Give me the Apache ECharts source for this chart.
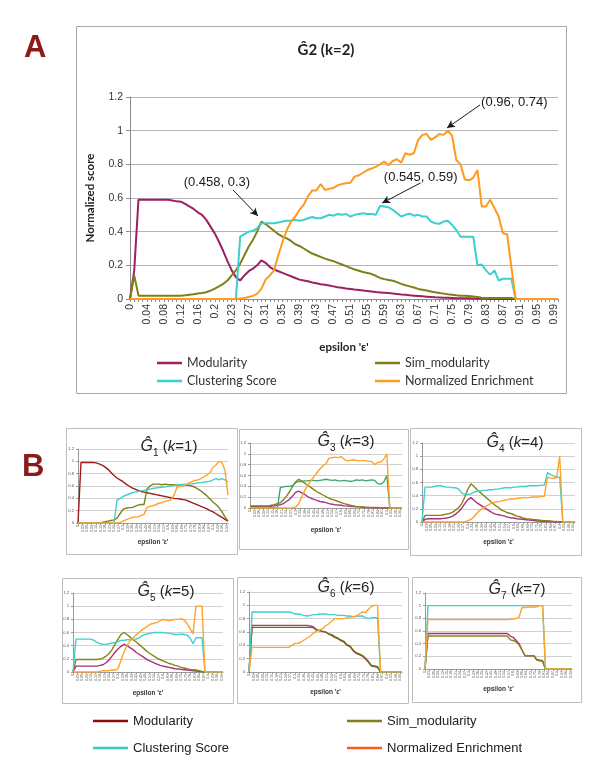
<!DOCTYPE html>
<html><head><meta charset="utf-8">
<script src="https://cdn.jsdelivr.net/npm/echarts@6/dist/echarts.min.js"></script>
<style>html,body{margin:0;padding:0;background:#fff}#c{width:600px;height:769px}</style>
</head><body><div id="c"></div>
<script>
// ---------- Panel A data ----------
const catsA = ["0","0.01","0.02","0.03","0.04","0.05","0.06","0.07","0.08","0.09","0.1","0.11","0.12","0.13","0.14","0.15","0.16","0.17","0.18","0.19","0.2","0.2","0.21","0.22","0.23","0.24","0.25","0.26","0.27","0.28","0.29","0.3","0.31","0.32","0.33","0.34","0.35","0.36","0.37","0.38","0.39","0.4","0.41","0.42","0.43","0.44","0.45","0.46","0.47","0.48","0.49","0.5","0.51","0.52","0.53","0.54","0.55","0.56","0.57","0.58","0.59","0.6","0.61","0.62","0.63","0.64","0.65","0.66","0.67","0.68","0.69","0.7","0.71","0.72","0.73","0.74","0.75","0.76","0.77","0.78","0.79","0.8","0.81","0.82","0.83","0.84","0.85","0.86","0.87","0.88","0.89","0.9","0.91","0.92","0.93","0.94","0.95","0.96","0.97","0.98","0.99","1"];
const modA = [0,0.17,0.59,0.59,0.59,0.59,0.59,0.59,0.59,0.59,
0.585,0.58,0.578,0.565,0.55,0.535,0.515,0.5,0.47,0.43,
0.39,0.34,0.285,0.225,0.17,0.13,0.11,0.14,0.165,0.18,
0.2,0.23,0.215,0.19,0.175,0.165,0.155,0.145,0.135,0.125,
0.115,0.11,0.105,0.098,0.093,0.088,0.085,0.08,0.075,0.07,
0.067,0.063,0.06,0.056,0.053,0.05,0.047,0.044,0.041,0.039,
0.037,0.035,0.033,0.03,0.027,0.025,0.022,0.02,0.018,0.016,
0.014,0.012,0.01,0.009,0.008,0.007,0.006,0.005,0.005,0.004,
0.004,0.003,0.003,0.002,0.002,0,0,0,0,0,
0,0,0,0,0,0,0,0,0,0,0,0];
const simA = [0,0.14,0.02,0.02,0.02,0.02,0.02,0.02,0.02,0.02,
0.02,0.02,0.02,0.022,0.025,0.028,0.033,0.036,0.04,0.05,
0.062,0.075,0.09,0.11,0.14,0.17,0.21,0.26,0.31,0.35,
0.4,0.46,0.445,0.425,0.405,0.385,0.37,0.36,0.345,0.325,
0.315,0.3,0.285,0.27,0.26,0.25,0.24,0.232,0.225,0.215,
0.205,0.195,0.185,0.175,0.168,0.16,0.155,0.148,0.138,0.125,
0.118,0.113,0.108,0.1,0.09,0.082,0.075,0.068,0.06,0.055,
0.05,0.045,0.04,0.036,0.032,0.028,0.025,0.022,0.02,0.02,
0.018,0.015,0.012,0.008,0.006,0.006,0.006,0.006,0.006,0.006,
0.006,0,0,0,0,0,0,0,0,0,0,0];
const cluA = [0,0,0,0,0,0,0,0,0,0,
0,0,0,0,0,0,0,0,0,0,
0,0,0,0,0,0,0.37,0.385,0.4,0.405,
0.42,0.45,0.45,0.45,0.45,0.455,0.46,0.465,0.465,0.47,
0.465,0.47,0.48,0.487,0.48,0.48,0.49,0.5,0.495,0.505,
0.5,0.505,0.49,0.5,0.505,0.51,0.505,0.505,0.5,0.553,
0.55,0.545,0.53,0.51,0.49,0.5,0.507,0.495,0.5,0.49,
0.49,0.46,0.45,0.447,0.46,0.465,0.44,0.41,0.37,0.37,
0.37,0.37,0.2,0.205,0.17,0.145,0.17,0.11,0.12,0.12,
0.12,0,0,0,0,0,0,0,0,0,0,0];
const enrA = [0,0,0,0,0,0,0,0,0,0,
0,0,0,0,0,0,0,0,0,0,
0,0,0,0,0,0,0.003,0.006,0.012,0.018,
0.03,0.06,0.115,0.14,0.17,0.26,0.34,0.41,0.46,0.49,
0.53,0.56,0.61,0.645,0.645,0.683,0.648,0.655,0.66,0.675,
0.683,0.688,0.69,0.727,0.735,0.75,0.766,0.775,0.785,0.8,
0.816,0.795,0.82,0.83,0.81,0.866,0.857,0.866,0.945,0.975,
0.98,0.945,0.96,0.98,0.975,1.0,0.97,0.826,0.8,0.71,
0.705,0.72,0.766,0.55,0.55,0.59,0.54,0.49,0.39,0.385,
0.19,0,0,0,0,0,0,0,0,0,0,0];
const yTicksA = [0,0.2,0.4,0.6,0.8,1,1.2];
// annotations: [label, textPos, arrowStart, arrowEnd] in (category index, value)
const notesA = [
  ["(0.458, 0.3)", [20.5,0.69], [24.3,0.648], [30.2,0.493]],
  ["(0.545, 0.59)", [68.6,0.725], [68.6,0.69], [59.5,0.57]],
  ["(0.96, 0.74)", [90.7,1.17], [82.6,1.153], [74.8,1.016]]
];

// ---------- Panel B data (epsilon step 0.02) ----------
const EPS = [0,0.02,0.04,0.06,0.08,0.1,0.12,0.14,0.16,0.18,0.2,0.22,0.24,0.26,0.28,0.3,0.32,0.34,0.36,0.38,0.4,0.42,0.44,0.46,0.48,0.5,0.52,0.54,0.56,0.58,0.6,0.62,0.64,0.66,0.68,0.7,0.72,0.74,0.76,0.78,0.8,0.82,0.84,0.86,0.88,0.9,0.92,0.94,0.96,0.98,1];
const mod1 = [0,0.98,0.98,0.98,0.98,0.98,0.975,0.96,0.94,0.91,0.87,0.82,0.77,0.73,0.70,0.67,0.63,0.60,0.57,0.55,0.53,0.51,0.50,0.49,0.48,0.47,0.46,0.45,0.44,0.43,0.42,0.41,0.40,0.395,0.39,0.38,0.37,0.35,0.33,0.31,0.29,0.27,0.25,0.23,0.20,0.18,0.15,0.12,0.09,0.06,0.03];
const clu1 = [0,0,0,0,0,0,0,0,0,0,0,0,0,0.37,0.40,0.43,0.45,0.47,0.49,0.50,0.51,0.52,0.53,0.54,0.55,0.56,0.57,0.575,0.58,0.585,0.59,0.60,0.61,0.615,0.62,0.625,0.63,0.63,0.635,0.64,0.65,0.655,0.66,0.67,0.68,0.70,0.72,0.70,0.72,0.70,0.66];
const sim1 = [0,0,0,0,0,0,0,0,0.01,0.02,0.03,0.04,0.05,0.08,0.15,0.22,0.24,0.25,0.25,0.27,0.29,0.30,0.30,0.55,0.60,0.63,0.63,0.63,0.62,0.63,0.62,0.62,0.62,0.61,0.62,0.62,0.61,0.61,0.60,0.58,0.55,0.52,0.48,0.44,0.39,0.34,0.30,0.25,0.18,0.10,0.03];
const enr1 = [0,0,0,0,0,0,0,0,0,0,0,0,0,0,0.01,0.03,0.05,0.07,0.09,0.10,0.10,0.12,0.14,0.25,0.27,0.28,0.30,0.32,0.33,0.35,0.36,0.38,0.45,0.58,0.60,0.60,0.62,0.65,0.67,0.69,0.70,0.72,0.75,0.78,0.82,0.90,0.94,1.0,0.98,0.85,0.45];
const mod3 = [0.03,0.03,0.03,0.03,0.03,0.03,0.03,0.03,0.04,0.05,0.06,0.08,0.12,0.16,0.22,0.29,0.31,0.28,0.25,0.21,0.18,0.16,0.14,0.12,0.11,0.10,0.08,0.07,0.06,0.055,0.05,0.04,0.035,0.03,0.025,0.02,0.02,0.015,0.01,0.01,0,0,0,0,0,0,0,0,0,0,0];
const sim3 = [0.03,0.04,0.04,0.04,0.04,0.04,0.04,0.05,0.06,0.08,0.10,0.15,0.22,0.30,0.40,0.48,0.53,0.50,0.46,0.42,0.38,0.34,0.30,0.27,0.24,0.21,0.18,0.16,0.14,0.12,0.10,0.08,0.065,0.05,0.04,0.03,0.025,0.02,0.015,0.012,0.01,0.01,0.008,0.005,0.005,0.005,0,0,0,0,0];
const clu3 = [0,0,0,0,0,0,0,0,0,0,0.38,0.39,0.40,0.40,0.41,0.47,0.49,0.49,0.50,0.50,0.51,0.51,0.50,0.51,0.52,0.53,0.52,0.51,0.52,0.50,0.50,0.51,0.50,0.49,0.50,0.52,0.51,0.52,0.50,0.51,0.52,0.51,0.45,0.44,0.48,0.60,0,0,0,0,0];
const enr3 = [0,0,0,0,0,0,0,0,0,0,0,0,0,0,0,0.02,0.08,0.20,0.32,0.42,0.50,0.58,0.65,0.72,0.78,0.82,0.92,0.93,0.94,0.93,0.95,0.90,0.87,0.88,0.89,0.88,0.87,0.88,0.87,0.86,0.86,0.80,0.84,0.85,0.90,1.0,0,0,0,0,0];
const clu4 = [0,0.53,0.53,0.53,0.54,0.55,0.55,0.54,0.53,0.53,0.52,0.52,0.50,0.44,0.42,0.42,0.43,0.45,0.47,0.47,0.48,0.48,0.49,0.49,0.50,0.50,0.51,0.52,0.52,0.52,0.53,0.53,0.54,0.54,0.54,0.55,0.55,0.55,0.55,0.56,0.56,0.75,0.72,0.70,0.68,0.68,0,0,0,0,0];
const enr4 = [0,0,0,0,0,0,0,0,0,0,0,0,0,0,0,0.02,0.04,0.08,0.14,0.18,0.21,0.24,0.27,0.29,0.30,0.31,0.32,0.33,0.34,0.35,0.35,0.36,0.36,0.37,0.37,0.37,0.38,0.38,0.38,0.39,0.39,0.68,0.67,0.66,0.68,1.0,0,0,0,0,0];
const sim4 = [0,0.10,0.10,0.10,0.10,0.10,0.10,0.11,0.12,0.13,0.15,0.18,0.22,0.28,0.38,0.50,0.58,0.54,0.49,0.45,0.41,0.37,0.33,0.29,0.25,0.22,0.18,0.16,0.14,0.13,0.11,0.09,0.08,0.06,0.05,0.045,0.04,0.035,0.03,0.025,0.02,0.02,0.015,0.01,0.01,0.005,0,0,0,0,0];
const mod4 = [0,0.04,0.05,0.05,0.05,0.05,0.05,0.055,0.06,0.07,0.09,0.12,0.16,0.21,0.28,0.34,0.37,0.33,0.29,0.26,0.23,0.20,0.17,0.14,0.12,0.11,0.10,0.09,0.075,0.065,0.06,0.05,0.045,0.04,0.035,0.03,0.025,0.02,0.015,0.01,0.008,0.005,0,0,0,0,0,0,0,0,0];
const clu5 = [0,0.5,0.5,0.5,0.5,0.5,0.5,0.48,0.45,0.43,0.42,0.42,0.43,0.44,0.45,0.46,0.48,0.48,0.49,0.49,0.50,0.50,0.52,0.55,0.57,0.58,0.59,0.60,0.60,0.60,0.60,0.59,0.59,0.58,0.57,0.57,0.58,0.57,0.56,0.52,0.43,0.52,0.52,0.52,0,0,0,0,0,0,0];
const enr5 = [0,0,0,0,0,0,0,0,0,0.01,0.02,0.02,0.02,0.03,0.03,0.05,0.18,0.30,0.40,0.47,0.52,0.56,0.60,0.64,0.67,0.70,0.73,0.74,0.75,0.78,0.80,0.79,0.78,0.79,0.80,0.80,0.81,0.79,0.74,0.66,0.58,1.0,1.0,1.0,0,0,0,0,0,0,0];
const sim5 = [0,0.19,0.19,0.19,0.19,0.19,0.19,0.19,0.19,0.20,0.21,0.24,0.28,0.34,0.42,0.50,0.57,0.60,0.57,0.53,0.49,0.46,0.42,0.38,0.34,0.30,0.27,0.24,0.21,0.19,0.17,0.15,0.13,0.12,0.10,0.09,0.07,0.06,0.05,0.04,0.035,0.03,0.02,0.01,0,0,0,0,0,0,0];
const mod5 = [0,0.09,0.09,0.09,0.09,0.09,0.09,0.09,0.09,0.10,0.11,0.14,0.18,0.24,0.30,0.35,0.39,0.42,0.40,0.37,0.34,0.30,0.27,0.24,0.21,0.18,0.16,0.14,0.12,0.10,0.09,0.08,0.07,0.06,0.05,0.045,0.04,0.035,0.03,0.025,0.02,0.015,0.01,0.005,0,0,0,0,0,0,0];
const clu6 = [0,0.9,0.9,0.9,0.9,0.9,0.9,0.9,0.9,0.9,0.9,0.9,0.9,0.9,0.89,0.87,0.87,0.86,0.85,0.84,0.85,0.86,0.86,0.87,0.87,0.87,0.86,0.86,0.86,0.85,0.85,0.85,0.84,0.84,0.83,0.83,0.84,0.84,0.82,0.80,0.81,0.82,0.81,0,0,0,0,0,0,0,0];
const mod6 = [0,0.7,0.7,0.7,0.7,0.7,0.7,0.7,0.7,0.7,0.7,0.7,0.7,0.7,0.7,0.7,0.7,0.7,0.7,0.7,0.69,0.68,0.64,0.62,0.61,0.60,0.57,0.55,0.52,0.50,0.47,0.45,0.40,0.38,0.32,0.28,0.26,0.24,0.20,0.15,0.09,0.08,0.07,0,0,0,0,0,0,0,0];
const sim6 = [0,0.67,0.67,0.67,0.67,0.67,0.67,0.67,0.67,0.67,0.67,0.67,0.67,0.67,0.67,0.67,0.67,0.67,0.67,0.67,0.67,0.665,0.63,0.62,0.61,0.60,0.57,0.56,0.53,0.51,0.48,0.46,0.41,0.39,0.33,0.29,0.27,0.25,0.21,0.16,0.10,0.09,0.08,0,0,0,0,0,0,0,0];
const enr6 = [0,0.37,0.37,0.37,0.37,0.37,0.37,0.37,0.37,0.37,0.37,0.37,0.37,0.37,0.40,0.43,0.43,0.45,0.48,0.51,0.54,0.58,0.61,0.63,0.65,0.69,0.72,0.76,0.80,0.80,0.80,0.80,0.81,0.82,0.83,0.84,0.87,0.90,0.89,0.94,0.98,1.0,1.0,0,0,0,0,0,0,0,0];
const clu7 = [0,1,1,1,1,1,1,1,1,1,1,1,1,1,1,1,1,1,1,1,1,1,1,1,1,1,1,1,1,1,1,1,1,1,1,1,1,1,1,1,1,0,0,0,0,0,0,0,0,0,0];
const enr7 = [0,0.78,0.78,0.78,0.78,0.78,0.78,0.78,0.78,0.78,0.78,0.78,0.78,0.78,0.78,0.78,0.78,0.78,0.78,0.78,0.78,0.78,0.78,0.78,0.78,0.78,0.78,0.78,0.78,0.785,0.79,0.80,0.82,0.97,0.97,0.975,0.98,0.98,0.98,1.0,1.0,0,0,0,0,0,0,0,0,0,0];
const mod7 = [0,0.56,0.56,0.56,0.56,0.56,0.56,0.56,0.56,0.56,0.56,0.56,0.56,0.56,0.56,0.56,0.56,0.56,0.56,0.56,0.56,0.56,0.56,0.56,0.56,0.56,0.56,0.56,0.56,0.52,0.50,0.45,0.40,0.30,0.21,0.21,0.21,0.21,0.15,0.14,0.13,0,0,0,0,0,0,0,0,0,0];
const sim7 = [0,0.52,0.52,0.52,0.52,0.52,0.52,0.52,0.52,0.52,0.52,0.52,0.52,0.52,0.52,0.52,0.52,0.52,0.52,0.52,0.52,0.52,0.52,0.52,0.52,0.52,0.52,0.52,0.52,0.46,0.45,0.43,0.38,0.30,0.21,0.21,0.21,0.21,0.14,0.13,0.12,0,0,0,0,0,0,0,0,0,0];

const seriesNames = ["Modularity","Sim_modularity","Clustering Score","Normalized Enrichment"];

// ---------- layout (pixels) ----------
const small = [
  {k:1, grid:{left:78,top:449,width:150,height:74}, frame:[66,428,171,126], title:[164,442], gap:16, data:[mod1,sim1,clu1,enr1], colors:['#9E1B1B','#808018','#3FCFCF','#FFA329']},
  {k:3, grid:{left:250,top:443,width:152,height:65}, frame:[239,429,169,120], title:[341,437], gap:19, data:[mod3,sim3,clu3,enr3], colors:['#B0338A','#848418','#3AA56E','#FFA329']},
  {k:4, grid:{left:422,top:443,width:153,height:79}, frame:[410,428,171,127], title:[510,438], gap:17, data:[mod4,sim4,clu4,enr4], colors:['#A8307A','#848418','#3FCFCF','#FFA329']},
  {k:5, grid:{left:73,top:593,width:150,height:79}, frame:[62,578,171,125], title:[161,587], gap:18, data:[mod5,sim5,clu5,enr5], colors:['#A8307A','#848418','#3FCFCF','#FFA329']},
  {k:6, grid:{left:249,top:592,width:153,height:80}, frame:[237,577,171,126], title:[341,583], gap:17, data:[mod6,sim6,clu6,enr6], colors:['#A8407A','#6E6E14','#3FCFCF','#FFA329']},
  {k:7, grid:{left:425,top:593,width:147,height:76}, frame:[412,577,169,125], title:[512,585], gap:17, data:[mod7,sim7,clu7,enr7], colors:['#A8307A','#848418','#3FCFCF','#FFA329']}
];
const colA = ['#9B2160','#7F7F1A','#3CCFCF','#FF9A1F'];
const colB = ['#8B1010','#7F7F20','#33CCCC','#FF5A1F'];

const grids = [{left:130, top:97, width:428, height:202}];
const xAxes = [
  {type:'category', gridIndex:0, data:catsA, boundaryGap:false,
   axisLine:{lineStyle:{color:'#8C8C8C'}},
   axisTick:{show:true, interval:0, length:3, lineStyle:{color:'#8C8C8C'}},
   axisLabel:{interval:3, rotate:90, fontSize:10.5, color:'#333', margin:5, fontFamily:'Liberation Sans'},
   name:"epsilon 'ε'", nameLocation:'middle', nameGap:42,
   nameTextStyle:{fontFamily:'Lato', fontWeight:'bold', fontSize:11.5, color:'#222'}},
  {type:'value', gridIndex:0, min:0, max:101, show:false}
];
const yAxes = [
  {type:'value', gridIndex:0, min:0, max:1.2, interval:0.2,
   axisLine:{show:true, lineStyle:{color:'#8C8C8C'}},
   axisTick:{show:true, length:4, lineStyle:{color:'#8C8C8C'}},
   splitLine:{lineStyle:{color:'#B4B4B4'}},
   axisLabel:{fontSize:10.5, color:'#333', margin:7, fontFamily:'Liberation Sans'},
   name:'Normalized score', nameLocation:'middle', nameGap:34, nameRotate:90,
   nameTextStyle:{fontFamily:'Lato', fontWeight:'bold', fontSize:11.5, color:'#222'}}
];
const series = [];
[modA, simA, cluA, enrA].forEach((arr, j) => {
  series.push({type:'line', name:seriesNames[j]+'#A', xAxisIndex:0, yAxisIndex:0, data:arr,
    showSymbol:false, symbol:'none', lineStyle:{width:2, color:colA[j]}, itemStyle:{color:colA[j]}, silent:true, z:2+j});
});
series.push({type:'line', name:'notes', xAxisIndex:1, yAxisIndex:0, data:[], silent:true,
  markLine:{silent:true, symbol:['none','arrow'], symbolSize:[6,8], animation:false,
    lineStyle:{color:'#1a1a1a', width:1, type:'solid'}, label:{show:false},
    data: notesA.map(n => [{coord:n[2]},{coord:n[3]}])},
  markPoint:{silent:true, symbol:'rect', symbolSize:1, itemStyle:{color:'rgba(0,0,0,0)'}, animation:false,
    label:{show:true, position:'inside', formatter: p => p.name, fontSize:13, color:'#1a1a1a', fontFamily:'Liberation Sans'},
    data: notesA.map(n => ({name:n[0], coord:n[1]}))}
});

const titles = [{text:'Ĝ2 (k=2)', left:321, top:38, textAlign:'center',
  textStyle:{fontFamily:'Lato', fontWeight:'bold', fontSize:15, color:'#222'}}];

small.forEach((s, g) => {
  grids.push(s.grid);
  const gi = g + 1;
  xAxes.push({type:'value', gridIndex:gi, min:0, max:1, interval:0.03,
    axisLine:{lineStyle:{color:'#999'}}, axisTick:{show:true, length:2, lineStyle:{color:'#999'}},
    splitLine:{show:false},
    axisLabel:{rotate:90, fontSize:3.6, color:'#555', margin:2, showMaxLabel:false, fontFamily:'Liberation Sans'},
    name:"epsilon 'ε'", nameLocation:'middle', nameGap:s.gap,
    nameTextStyle:{fontFamily:'Liberation Sans', fontWeight:'bold', fontSize:6.5, color:'#333'}});
  yAxes.push({type:'value', gridIndex:gi, min:0, max:1.2, interval:0.2,
    axisLine:{show:true, lineStyle:{color:'#999'}}, axisTick:{show:true, length:2, lineStyle:{color:'#999'}},
    splitLine:{lineStyle:{color:'#C4C4C4', width:0.8}},
    axisLabel:{fontSize:4.2, color:'#555', margin:4, fontFamily:'Liberation Sans'}});
  s.data.forEach((arr, j) => {
    series.push({type:'line', name:seriesNames[j]+'#G'+s.k, xAxisIndex:gi+1, yAxisIndex:gi,
      data: EPS.map((x, i) => [x, arr[i]]), showSymbol:false, symbol:'none', silent:true,
      lineStyle:{width:1.4, color:s.colors[j]}, itemStyle:{color:s.colors[j]}, z:2+j});
  });
  titles.push({text:'{g|Ĝ}{s|' + s.k + '}{t| (}{k|k}{t|=' + s.k + ')}', left:s.title[0], top:s.title[1]-11, textAlign:'center',
    textStyle:{fontWeight:'normal', rich:{
      g:{fontFamily:'Liberation Sans', fontWeight:'normal', fontStyle:'italic', fontSize:16, color:'#222', lineHeight:22},
      s:{fontFamily:'Liberation Sans', fontWeight:'normal', fontSize:10, color:'#222', verticalAlign:'bottom', lineHeight:16},
      t:{fontFamily:'Liberation Sans', fontWeight:'normal', fontSize:15, color:'#222', lineHeight:22},
      k:{fontFamily:'Liberation Sans', fontWeight:'normal', fontStyle:'italic', fontSize:15, color:'#222', lineHeight:22}
    }}});
});

// dummy series carrying the colours of the bottom legend
seriesNames.forEach((n, j) => {
  series.push({type:'line', name:n+'#B', xAxisIndex:2, yAxisIndex:1, data:[], silent:true,
    lineStyle:{color:colB[j], width:2.5}, itemStyle:{color:colB[j]}});
});

function leg(name, left, top, w, font, size, color) {
  return {data:[name], left:left, top:top, orient:'horizontal', padding:0, itemGap:0,
    icon:'rect', itemWidth:w, itemHeight:2.5, selectedMode:false,
    formatter: n => n.split('#')[0],
    textStyle:{fontFamily:font, fontSize:size, color:color, lineHeight:16, padding:[0,0,0,0]}};
}
const legends = [
  leg('Modularity#A', 157, 355, 25, 'Lato', 12.5, '#333'),
  leg('Sim_modularity#A', 375, 355, 25, 'Lato', 12.5, '#333'),
  leg('Clustering Score#A', 157, 373, 25, 'Lato', 12.5, '#333'),
  leg('Normalized Enrichment#A', 375, 373, 25, 'Lato', 12.5, '#333'),
  leg('Modularity#B', 93, 713, 35, 'Liberation Sans', 13, '#222'),
  leg('Sim_modularity#B', 347, 713, 35, 'Liberation Sans', 13, '#222'),
  leg('Clustering Score#B', 93, 740, 35, 'Liberation Sans', 13, '#222'),
  leg('Normalized Enrichment#B', 347, 740, 35, 'Liberation Sans', 13, '#222')
];

const graphics = [
  {type:'rect', shape:{x:76.5, y:26.5, width:490, height:367}, style:{fill:'none', stroke:'#A8A8A8', lineWidth:1}, silent:true},
  {type:'text', left:24, top:33, style:{text:'A', font:'bold 31px "Liberation Sans"', fill:'#8B1A1A'}, silent:true},
  {type:'text', left:22, top:452, style:{text:'B', font:'bold 31px "Liberation Sans"', fill:'#8B1A1A'}, silent:true}
];
small.forEach(s => {
  graphics.push({type:'rect', shape:{x:s.frame[0]+0.5, y:s.frame[1]+0.5, width:s.frame[2], height:s.frame[3]},
    style:{fill:'none', stroke:'#BEBEBE', lineWidth:1}, silent:true});
});

const chart = echarts.init(document.getElementById('c'), null, {renderer:'canvas'});
chart.setOption({
  animation:false, backgroundColor:'#fff',
  title:titles, grid:grids, xAxis:xAxes, yAxis:yAxes, series:series, legend:legends, graphic:graphics
});
</script></body></html>
